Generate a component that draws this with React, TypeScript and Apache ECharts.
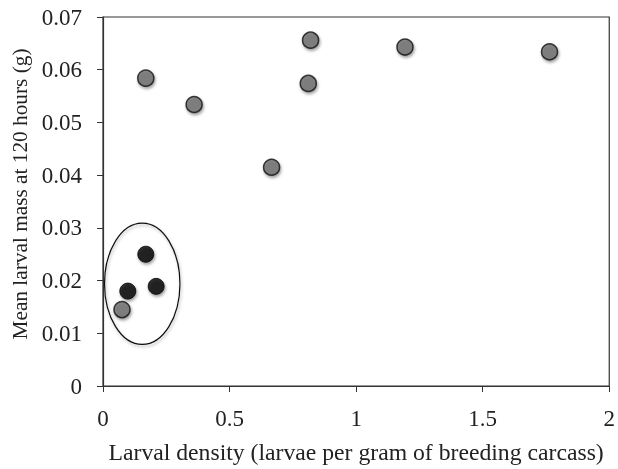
import React, { useEffect, useRef } from "react";
import * as echarts from "echarts";

const grayX = [0.169, 0.36, 0.666, 0.82, 0.811, 1.193, 1.764, 0.075];
const grayY = [0.0584, 0.0534, 0.0415, 0.0656, 0.0574, 0.0643, 0.0634, 0.0145];
const blackX = [0.169, 0.098, 0.21];
const blackY = [0.025, 0.018, 0.0189];
// ellipse: centre x, centre y, radius x, radius y (data units)
const ellipseSpec = [0.155, 0.0194, 0.149, 0.0115];

const xTitle = "Larval density (larvae per gram of breeding carcass)";
const yTitle = "Mean larval mass at 120 hours (g)";

export default function App() {
  const ref = useRef<HTMLDivElement>(null);
  useEffect(() => {
    if (!ref.current) return;
    const chart = echarts.init(ref.current, undefined, { renderer: "svg" });
    const font = "Liberation Serif";
    const shadow = {
      shadowBlur: 3,
      shadowOffsetX: 1,
      shadowOffsetY: 2,
      shadowColor: "rgba(0,0,0,0.45)",
    };
    chart.setOption({
      animation: false,
      grid: {
        left: 103,
        right: 6,
        top: 17,
        bottom: 80,
        show: true,
        borderColor: "#333",
        borderWidth: 1.2,
        backgroundColor: "transparent",
      },
      xAxis: {
        type: "value",
        min: 0,
        max: 2,
        interval: 0.5,
        name: xTitle,
        nameLocation: "middle",
        nameGap: 54,
        nameTextStyle: { fontFamily: font, fontSize: 23.7, color: "#222" },
        axisLine: { show: true, lineStyle: { color: "#333", width: 1.2 } },
        axisTick: { show: true, inside: false, length: 6, lineStyle: { color: "#333" } },
        axisLabel: { fontFamily: font, fontSize: 23, color: "#222", margin: 21 },
        splitLine: { show: false },
      },
      yAxis: {
        type: "value",
        min: 0,
        max: 0.07,
        interval: 0.01,
        name: yTitle,
        nameLocation: "middle",
        nameGap: 68,
        nameTextStyle: {
          fontFamily: font,
          fontSize: 21.3,
          color: "#222",
          padding: [0, 0, 0, 15],
        },
        axisLine: { show: true, lineStyle: { color: "#333", width: 1.2 } },
        axisTick: { show: true, inside: false, length: 6, lineStyle: { color: "#333" } },
        axisLabel: {
          fontFamily: font,
          fontSize: 23,
          color: "#222",
          margin: 21,
          formatter: (v: number) => (v === 0 ? "0" : v.toFixed(2)),
        },
        splitLine: { show: false },
      },
      series: [
        {
          type: "custom",
          data: [ellipseSpec],
          z: 1,
          silent: true,
          renderItem: (params: any, api: any) => {
            const cx = api.value(0);
            const cy = api.value(1);
            const rx = api.value(2);
            const ry = api.value(3);
            const c = api.coord([cx, cy]);
            const r = api.coord([cx + rx, cy + ry]);
            const pxr = Math.abs(r[0] - c[0]);
            const pyr = Math.abs(c[1] - r[1]);
            const d =
              `M ${c[0] - pxr} ${c[1]} ` +
              `A ${pxr} ${pyr} 0 1 0 ${c[0] + pxr} ${c[1]} ` +
              `A ${pxr} ${pyr} 0 1 0 ${c[0] - pxr} ${c[1]} Z`;
            return {
              type: "path",
              shape: { pathData: d },
              style: {
                fill: "none",
                stroke: "#111",
                lineWidth: 1.2,
                shadowBlur: 3,
                shadowOffsetX: 1,
                shadowOffsetY: 2,
                shadowColor: "rgba(0,0,0,0.3)",
              },
            };
          },
        },
        {
          type: "scatter",
          symbol: "circle",
          symbolSize: 16,
          z: 3,
          data: grayX.map((x, i) => [x, grayY[i]]),
          itemStyle: {
            color: "#6e6e6e",
            borderColor: "#111",
            borderWidth: 1.5,
            ...shadow,
          },
        },
        {
          type: "scatter",
          symbol: "circle",
          symbolSize: 16,
          z: 3,
          data: blackX.map((x, i) => [x, blackY[i]]),
          itemStyle: {
            color: "#000",
            borderColor: "#000",
            borderWidth: 1,
            ...shadow,
          },
        },
      ],
    });
    return () => chart.dispose();
  }, []);
  return (
    <div
      ref={ref}
      style={{ position: "fixed", left: 0, top: 0, width: 618, height: 469 }}
    />
  );
}
